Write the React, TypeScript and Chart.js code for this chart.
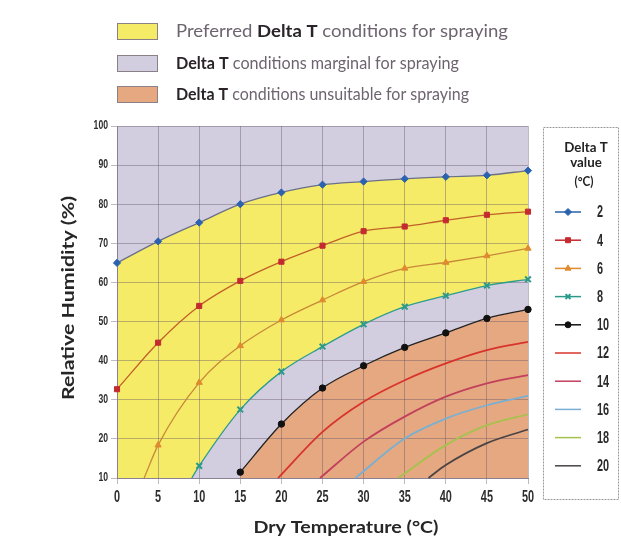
import React, { useEffect, useRef } from 'react';
import { Chart, registerables } from 'chart.js';
import { drawPoint } from 'chart.js/helpers';

Chart.register(...registerables);

// ---------- data ----------
const TEMPS = [0, 5, 10, 15, 20, 25, 30, 35, 40, 45, 50];
const DELTA_T = [2, 4, 6, 8, 10, 12, 14, 16, 18, 20];
const Y_TICKS = [10, 20, 30, 40, 50, 60, 70, 80, 90, 100];

const RH_DT2 = [65, 70.5, 75.3, 80, 83, 85, 85.8, 86.5, 87, 87.4, 88.6];
const RH_DT4 = [32.7, 44.6, 54, 60.4, 65.3, 69.4, 73.1, 74.3, 75.9, 77.3, 78.1];
const RH_DT6 = [null, 18.4, 34.4, 43.8, 50.4, 55.5, 60.2, 63.6, 65.1, 66.8, 68.7];
const RH_DT8 = [null, null, 13.1, 27.5, 37.2, 43.6, 49.3, 53.8, 56.6, 59.2, 60.8];
const RH_DT10 = [null, null, null, 11.5, 23.8, 33, 38.7, 43.4, 47.1, 50.8, 53.1];
const RH_DT12 = [null, null, null, null, null, 21.8, 29.5, 35, 39.3, 42.7, 44.8];
const RH_DT14 = [null, null, null, null, null, null, 19.3, 25.7, 30.8, 34.2, 36.3];
const RH_DT16 = [null, null, null, null, null, null, null, 20.1, 25.2, 28.6, 31];
const RH_DT18 = [null, null, null, null, null, null, null, null, 18.4, 23.5, 26.3];
const RH_DT20 = [null, null, null, null, null, null, null, null, 13.3, 18.9, 22.4];
// dry temperature where each curve leaves the 10 % RH floor
const START_T = [null, null, 3.3, 9.1, null, 19.6, 24.7, 29, 34.2, 37.9];
const RH_SERIES = [RH_DT2, RH_DT4, RH_DT6, RH_DT8, RH_DT10, RH_DT12, RH_DT14, RH_DT16, RH_DT18, RH_DT20];

const ZONE_LABELS = [
  [['Preferred ', false], ['Delta T', true], [' conditions for spraying', false]],
  [['Delta T', true], [' conditions marginal for spraying', false]],
  [['Delta T', true], [' conditions unsuitable for spraying', false]],
];
const X_TITLE = 'Dry Temperature (°C)';
const Y_TITLE = 'Relative Humidity (%)';
const LEGEND_TITLE = ['Delta T', 'value', '(°C)'];

// ---------- styles ----------
const YELLOW = '#f6eb66';
const LAVENDER = '#d2cee0';
const ORANGE = '#e5a880';
const ZONE_COLORS = [YELLOW, LAVENDER, ORANGE];
const LINE_COLORS = ['#6a7088', '#c0602a', '#c8883a', '#2f9c8c', '#222222', '#d8342c', '#c2405c', '#78b0d4', '#a6c24e', '#4a4444'];
const MARK_COLORS = ['#2a62b0', '#c42a30', '#e08a30', '#2a9a8a', '#111111', null, null, null, null, null];
const MARK_STYLES = ['rectRot', 'rect', 'triangle', 'crossRot', 'circle', false, false, false, false, false];
const FILLS = [YELLOW, null, null, LAVENDER, ORANGE, null, null, null, null, null];

const NARROW = "'Liberation Sans', Arial, sans-serif";
const HUMAN = "Lato, 'Open Sans', 'Noto Sans', sans-serif";

function buildData(i: number) {
  const pts: { x: number; y: number }[] = [];
  if (START_T[i] != null) pts.push({ x: START_T[i] as number, y: 10 });
  TEMPS.forEach((t, j) => {
    const v = RH_SERIES[i][j];
    if (v != null) pts.push({ x: t, y: v });
  });
  return pts;
}

// draw text squeezed/stretched horizontally by factor sx
function textSX(ctx: CanvasRenderingContext2D, txt: string, x: number, y: number, sx: number, align: CanvasTextAlign) {
  ctx.save();
  ctx.translate(x, y);
  ctx.scale(sx, 1);
  ctx.textAlign = align;
  ctx.fillText(txt, 0, 0);
  ctx.restore();
}

const decorPlugin = {
  id: 'decor',
  afterDraw(chart: any) {
    const ctx: CanvasRenderingContext2D = chart.ctx;
    const xs = chart.scales.x;
    const ys = chart.scales.y;
    ctx.save();

    // tick labels (condensed)
    ctx.fillStyle = '#2e2e2e';
    ctx.textBaseline = 'middle';
    ctx.font = 'bold 12px ' + NARROW;
    Y_TICKS.forEach((v) => textSX(ctx, String(v), 108, ys.getPixelForValue(v), 0.72, 'right'));
    ctx.font = 'bold 16px ' + NARROW;
    TEMPS.forEach((v) => textSX(ctx, String(v), xs.getPixelForValue(v), 498, 0.68, 'center'));

    // top zone legend
    const baselines = [37, 69, 100];
    const boxTops = [23, 55, 86];
    const widths = [332, 283, 293];
    ZONE_LABELS.forEach((segs, k) => {
      ctx.fillStyle = ZONE_COLORS[k];
      ctx.fillRect(117, boxTops[k], 41, 17);
      ctx.strokeStyle = '#8c8088';
      ctx.lineWidth = 1;
      ctx.strokeRect(117.5, boxTops[k] + 0.5, 40, 16);
      ctx.textBaseline = 'alphabetic';
      let natural = 0;
      (segs as any[]).forEach(([txt, bold]) => {
        ctx.font = (bold ? 'bold ' : '') + '17px ' + HUMAN;
        natural += ctx.measureText(txt).width;
      });
      const sx = widths[k] / natural;
      let x = 176;
      (segs as any[]).forEach(([txt, bold]) => {
        ctx.font = (bold ? 'bold ' : '') + '17px ' + HUMAN;
        ctx.fillStyle = bold ? '#2a2428' : '#6e6470';
        textSX(ctx, txt, x, baselines[k], sx, 'left');
        x += ctx.measureText(txt).width * sx;
      });
    });

    // axis titles
    ctx.fillStyle = '#262626';
    ctx.font = 'bold 17px ' + HUMAN;
    ctx.textBaseline = 'middle';
    const xw = ctx.measureText(X_TITLE).width;
    textSX(ctx, X_TITLE, 346, 528, 185 / xw, 'center');
    const yw = ctx.measureText(Y_TITLE).width;
    ctx.save();
    ctx.translate(69, 298);
    ctx.rotate(-Math.PI / 2);
    textSX(ctx, Y_TITLE, 0, 0, 204 / yw, 'center');
    ctx.restore();

    // right Delta T legend
    ctx.strokeStyle = '#9a9a9a';
    ctx.lineWidth = 1;
    ctx.setLineDash([2, 1]);
    ctx.strokeRect(543.5, 127.5, 75, 372);
    ctx.setLineDash([]);
    ctx.fillStyle = '#222';
    ctx.font = 'bold 14px ' + HUMAN;
    textSX(ctx, LEGEND_TITLE[0], 586, 147, 0.95, 'center');
    textSX(ctx, LEGEND_TITLE[1], 586, 162, 0.95, 'center');
    ctx.font = 'bold 13px ' + HUMAN;
    textSX(ctx, LEGEND_TITLE[2], 584, 182, 0.9, 'center');
    DELTA_T.forEach((dt, i) => {
      const y = 212 + i * 28.2;
      ctx.strokeStyle = MARK_COLORS[i] || LINE_COLORS[i];
      ctx.lineWidth = 1.5;
      ctx.beginPath();
      ctx.moveTo(555, y);
      ctx.lineTo(581, y);
      ctx.stroke();
      if (MARK_STYLES[i]) {
        ctx.fillStyle = MARK_COLORS[i] as string;
        ctx.strokeStyle = MARK_COLORS[i] as string;
        ctx.lineWidth = MARK_STYLES[i] === 'crossRot' ? 2 : 1;
        drawPoint(ctx, { pointStyle: MARK_STYLES[i] as any, radius: MARK_STYLES[i] === 'circle' ? 3 : 3.5, rotation: 0, borderWidth: 1 } as any, 568, y);
      }
      ctx.fillStyle = '#2a2a2a';
      ctx.font = 'bold 16px ' + NARROW;
      ctx.textBaseline = 'middle';
      textSX(ctx, String(dt), 597, y + 1, 0.68, 'left');
    });
    ctx.restore();
  },
};

export default function App() {
  const ref = useRef<HTMLCanvasElement>(null);
  useEffect(() => {
    if (!ref.current) return;
    const datasets: any[] = [
      {
        label: 'bg',
        data: [{ x: 0, y: 100 }, { x: 50, y: 100 }],
        borderWidth: 0,
        pointRadius: 0,
        fill: 'start',
        backgroundColor: LAVENDER,
        order: 100,
      },
    ];
    DELTA_T.forEach((dt, i) => {
      const mark = MARK_STYLES[i];
      const r = mark ? (mark === 'crossRot' ? 4 : mark === 'circle' ? 3.2 : 3.6) : 0;
      datasets.push({
        label: 'ΔT ' + dt,
        data: buildData(i),
        borderColor: LINE_COLORS[i],
        borderWidth: i < 5 ? 1.3 : 1.8,
        cubicInterpolationMode: 'monotone',
        pointStyle: mark || 'circle',
        pointRadius: (c: any) => (START_T[i] != null && c.dataIndex === 0 ? 0 : r),
        pointBackgroundColor: MARK_COLORS[i] || LINE_COLORS[i],
        pointBorderColor: MARK_COLORS[i] || LINE_COLORS[i],
        pointBorderWidth: mark === 'crossRot' ? 2 : 1,
        fill: FILLS[i] ? 'start' : false,
        backgroundColor: FILLS[i] || 'transparent',
        order: i === 0 ? 90 : i === 3 ? 80 : i === 4 ? 70 : 10 - i,
        clip: false,
      });
    });

    const chart = new Chart(ref.current, {
      type: 'line',
      data: { datasets },
      options: {
        animation: false,
        responsive: false,
        devicePixelRatio: 1,
        events: [],
        layout: { padding: { left: 0, right: 93, top: 126, bottom: 0 } },
        plugins: {
          legend: { display: false },
          tooltip: { enabled: false },
          filler: { drawTime: 'beforeDraw' },
        },
        scales: {
          x: {
            type: 'linear',
            min: 0,
            max: 50,
            afterBuildTicks: (s: any) => { s.ticks = TEMPS.map((v) => ({ value: v })); },
            afterFit: (s: any) => { s.height = 75; },
            grid: { color: 'rgba(95,80,100,0.4)', tickLength: 6, lineWidth: 1 },
            border: { color: '#8a8090' },
            ticks: { display: false },
          },
          y: {
            type: 'linear',
            min: 10,
            max: 100,
            afterBuildTicks: (s: any) => { s.ticks = Y_TICKS.map((v) => ({ value: v })); },
            afterFit: (s: any) => { s.width = 117; },
            grid: { color: 'rgba(95,80,100,0.4)', tickLength: 6, lineWidth: 1 },
            border: { color: '#8a8090' },
            ticks: { display: false },
          },
        },
      },
      plugins: [decorPlugin],
    } as any);
    return () => chart.destroy();
  }, []);
  return (
    <div style={{ position: 'absolute', left: 0, top: 0, width: 621, height: 553, background: '#fff' }}>
      <canvas ref={ref} width={621} height={553} />
    </div>
  );
}
